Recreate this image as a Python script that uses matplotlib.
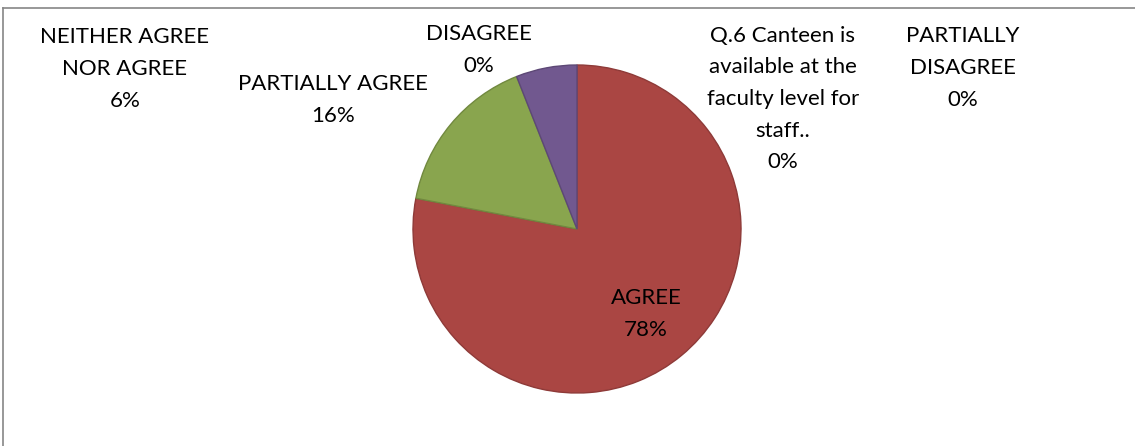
import matplotlib.pyplot as plt
from matplotlib.lines import Line2D

plt.rcParams["font.family"] = ["Lato", "DejaVu Sans"]

labels = ["Q.6 Canteen is\navailable at the\nfaculty level for\nstaff..", "AGREE", "PARTIALLY AGREE",
          "NEITHER AGREE\nNOR AGREE", "DISAGREE", "PARTIALLY\nDISAGREE"]
values = [0, 78, 16, 6, 0, 0]
colors = ["#4572A7", "#AA4643", "#89A54E", "#71588F", "#4198AF", "#DB843D"]
edges = ["#3A5F8B", "#8E3A38", "#71893F", "#5D4876", "#367E91", "#B66D33"]

# label centres in figure pixels (from top-left)
label_pos = [(783, 99), (646, 314), (333, 100), (125, 69), (479, 50), (963, 68)]

W, H = 1135, 446
fig = plt.figure(figsize=(W / 100, H / 100), dpi=100)

cx, cy, r = 577, 229, 164
ax = fig.add_axes([(cx - r) / W, (H - cy - r) / H, 2 * r / W, 2 * r / H])
wedges, _ = ax.pie(values, colors=colors, startangle=90, counterclock=False,
                   radius=1, wedgeprops=dict(linewidth=1.0))
for w, e, v in zip(wedges, edges, values):
    w.set_edgecolor(e if v > 0 else "none")
ax.set_xlim(-1.0, 1.0)
ax.set_ylim(-1.0, 1.0)
ax.set_aspect("equal")
ax.axis("off")

total = sum(values)
for lab, v, (px, py) in zip(labels, values, label_pos):
    fig.text(px / W, 1 - py / H, f"{lab}\n{v / total:.0%}", ha="center", va="center",
             fontsize=16, color="#000000", linespacing=1.72)

# chart border (top and left visible)
fig.add_artist(Line2D([3 / W, 3 / W], [0, 1 - 8 / H], transform=fig.transFigure,
                      color="#868686", lw=1.2))
fig.add_artist(Line2D([3 / W, 1], [1 - 8 / H, 1 - 8 / H], transform=fig.transFigure,
                      color="#868686", lw=1.2))

fig.savefig("out.png", dpi=100)
